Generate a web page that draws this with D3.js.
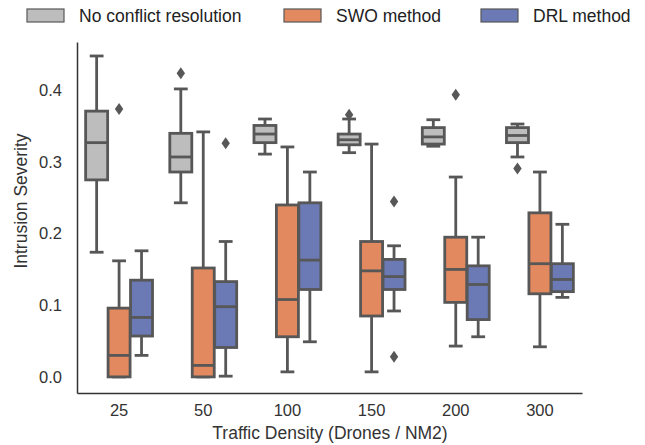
<!DOCTYPE html>
<html>
<head>
<meta charset="utf-8">
<script src="https://cdn.jsdelivr.net/npm/d3@7"></script>
<style>
  body { margin: 0; background: #fff; }
  text { font-family: "Liberation Sans", Arial, sans-serif; }
</style>
</head>
<body>
<div id="chart"></div>
<script>
// categories and series
var densities = ["25", "50", "100", "150", "200", "300"];
var methods = ["No conflict resolution", "SWO method", "DRL method"];
var yTicks = [0.0, 0.1, 0.2, 0.3, 0.4];

// box stats per density: [lower whisker, q1, median, q3, upper whisker]
var noneStats = [
  [0.174, 0.275, 0.327, 0.371, 0.448],
  [0.243, 0.286, 0.307, 0.340, 0.402],
  [0.311, 0.327, 0.339, 0.351, 0.360],
  [0.313, 0.324, 0.331, 0.339, 0.360],
  [0.322, 0.325, 0.335, 0.348, 0.359],
  [0.307, 0.327, 0.337, 0.348, 0.353]
];
var swoStats = [
  [0.000, 0.000, 0.030, 0.096, 0.162],
  [0.000, 0.000, 0.016, 0.152, 0.342],
  [0.007, 0.056, 0.108, 0.240, 0.321],
  [0.007, 0.085, 0.148, 0.189, 0.325],
  [0.043, 0.104, 0.150, 0.195, 0.279],
  [0.042, 0.116, 0.158, 0.229, 0.286]
];
var drlStats = [
  [0.030, 0.057, 0.083, 0.135, 0.176],
  [0.001, 0.041, 0.098, 0.133, 0.189],
  [0.049, 0.122, 0.163, 0.243, 0.286],
  [0.092, 0.122, 0.140, 0.164, 0.183],
  [0.056, 0.080, 0.129, 0.155, 0.195],
  [0.111, 0.119, 0.136, 0.158, 0.213]
];

// outliers per method, one list per density
var noneOutliers = [[], [0.424], [], [0.366], [], [0.291]];
var swoOutliers  = [[0.374], [], [], [], [0.394], []];
var drlOutliers  = [[], [0.326], [], [0.245, 0.028], [], []];

var colors = ["#bdbdbd", "#e2895f", "#6b7ab5"];
var lineColor = "#575757";

var allStats = [noneStats, swoStats, drlStats];
var allOutliers = [noneOutliers, swoOutliers, drlOutliers];

var W = 645, H = 445;
var plotLeft = 77, plotRight = 582, plotTop = 42, plotBottom = 393;

var svg = d3.select("#chart").append("svg")
  .attr("width", W)
  .attr("height", H);

var x = d3.scaleBand()
  .domain(densities)
  .range([plotLeft, plotRight])
  .padding(0);

var y = d3.scaleLinear()
  .domain([-0.0225, 0.4675])
  .range([plotBottom, plotTop]);

var hueWidth = x.bandwidth() * 0.8 / methods.length;
var boxW = hueWidth * 0.98;

// axes
var xAxis = svg.append("g")
  .attr("transform", "translate(0," + plotBottom + ")")
  .call(d3.axisBottom(x).tickSize(0).tickPadding(11));
xAxis.select(".domain").attr("stroke", "#333").attr("stroke-width", 1.5);
xAxis.selectAll("text").attr("font-size", 16.5).attr("fill", "#333");

var yAxis = svg.append("g")
  .attr("transform", "translate(" + plotLeft + ",0)")
  .call(d3.axisLeft(y).tickValues(yTicks).tickFormat(d3.format(".1f")).tickSize(0).tickPadding(15));
yAxis.select(".domain").attr("stroke", "#333").attr("stroke-width", 1.5);
yAxis.selectAll("text").attr("font-size", 16.5).attr("fill", "#333");

// axis labels
svg.append("text")
  .attr("x", 330)
  .attr("y", 439)
  .attr("text-anchor", "middle")
  .attr("font-size", 17.5)
  .attr("fill", "#333")
  .text("Traffic Density (Drones / NM2)");

svg.append("text")
  .attr("transform", "translate(27,201) rotate(-90)")
  .attr("text-anchor", "middle")
  .attr("font-size", 17.5)
  .attr("fill", "#333")
  .text("Intrusion Severity");

// boxes
methods.forEach(function(m, mi) {
  var g = svg.append("g");
  densities.forEach(function(d, di) {
    var s = allStats[mi][di];
    var cx = x(d) + x.bandwidth() / 2 + (mi - 1) * hueWidth;
    var capW = boxW / 2;
    // whiskers
    g.append("line")
      .attr("x1", cx).attr("x2", cx)
      .attr("y1", y(s[0])).attr("y2", y(s[1]))
      .attr("stroke", lineColor).attr("stroke-width", 2.8);
    g.append("line")
      .attr("x1", cx).attr("x2", cx)
      .attr("y1", y(s[3])).attr("y2", y(s[4]))
      .attr("stroke", lineColor).attr("stroke-width", 2.8);
    // caps
    [s[0], s[4]].forEach(function(v) {
      g.append("line")
        .attr("x1", cx - capW / 2).attr("x2", cx + capW / 2)
        .attr("y1", y(v)).attr("y2", y(v))
        .attr("stroke", lineColor).attr("stroke-width", 2.8)
        .attr("stroke-linecap", "square");
    });
    // box
    g.append("rect")
      .attr("x", cx - boxW / 2)
      .attr("y", y(s[3]))
      .attr("width", boxW)
      .attr("height", y(s[1]) - y(s[3]))
      .attr("fill", colors[mi])
      .attr("stroke", lineColor)
      .attr("stroke-width", 2.8);
    // median
    g.append("line")
      .attr("x1", cx - boxW / 2).attr("x2", cx + boxW / 2)
      .attr("y1", y(s[2])).attr("y2", y(s[2]))
      .attr("stroke", lineColor).attr("stroke-width", 2.8);
    // outliers (diamonds)
    allOutliers[mi][di].forEach(function(v) {
      g.append("path")
        .attr("d", "M0,-6L4.2,0L0,6L-4.2,0Z")
        .attr("transform", "translate(" + cx + "," + y(v) + ")")
        .attr("fill", lineColor);
    });
  });
});

// legend
var legendX = [27, 284, 481];
var legend = svg.append("g");
methods.forEach(function(m, i) {
  legend.append("rect")
    .attr("x", legendX[i]).attr("y", 9)
    .attr("width", 37).attr("height", 13)
    .attr("fill", colors[i])
    .attr("stroke", lineColor)
    .attr("stroke-width", 1.2);
  legend.append("text")
    .attr("x", legendX[i] + 52).attr("y", 22)
    .attr("font-size", 17.5)
    .attr("fill", "#222")
    .text(m);
});
</script>
</body>
</html>
